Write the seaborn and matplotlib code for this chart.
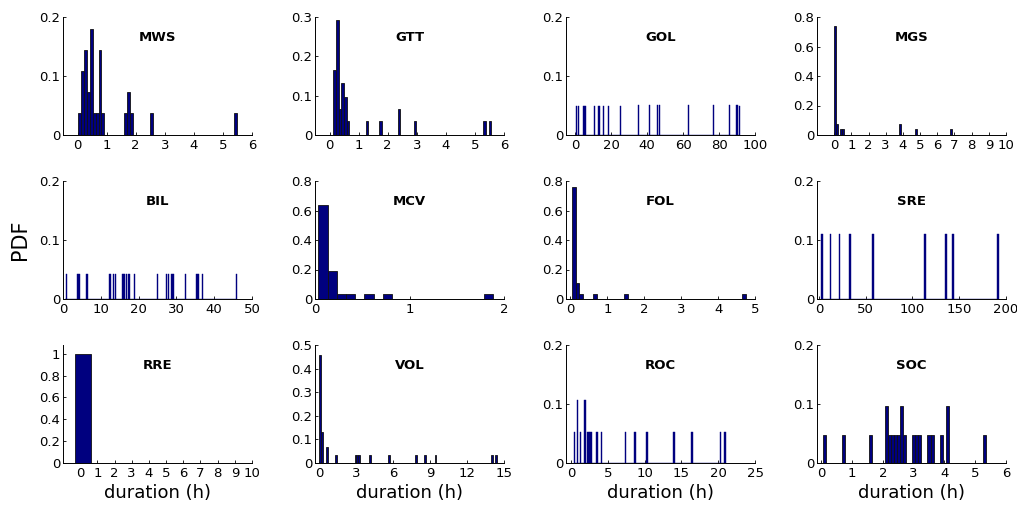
import numpy as np
import matplotlib
matplotlib.use("Agg")
import matplotlib.pyplot as plt
from matplotlib.ticker import FuncFormatter
import seaborn as sns

# durations (h) at each non-empty bin, and the PDF value of that bin
mws_hours = [0.08, 0.18, 0.28, 0.38, 0.47, 0.57, 0.67, 0.77, 0.87, 1.70, 1.79, 1.89, 2.55, 5.43]
mws_pdf = [0.037, 0.108, 0.144, 0.073, 0.179, 0.037, 0.037, 0.144, 0.037, 0.037, 0.073, 0.037, 0.037, 0.037]

gtt_hours = [0.18, 0.27, 0.36, 0.45, 0.55, 0.64, 1.27, 1.76, 2.39, 2.96, 5.32, 5.50]
gtt_pdf = [0.164, 0.293, 0.066, 0.131, 0.097, 0.035, 0.035, 0.035, 0.066, 0.035, 0.035, 0.035]

gol_hours = [0.7, 1.6, 4.8, 5.4, 6.2, 10.5, 13.0, 13.9, 15.3, 18.3, 25.1, 35.3, 41.5, 45.6,
             46.9, 62.8, 77.0, 85.5, 90.0, 90.9]
gol_pdf = [0.05] * 20

mgs_hours = [0.06, 0.18, 0.41, 0.53, 3.8, 4.8, 6.8]
mgs_pdf = [0.738, 0.073, 0.04, 0.04, 0.073, 0.04, 0.04]

bil_hours = [0.8, 4.0, 4.3, 6.3, 12.4, 12.7, 13.3, 13.8, 15.6, 15.9, 16.2, 16.8, 17.5, 19.0,
             24.8, 27.3, 27.8, 28.7, 29.1, 32.3, 35.3, 35.8, 36.8, 46.0]
bil_pdf = [0.0417] * 24

mcv_hours = [0.085, 0.18, 0.28, 0.37, 0.59, 0.79, 1.80]
mcv_pdf = [0.64, 0.19, 0.034, 0.034, 0.034, 0.034, 0.034]

fol_hours = [0.10, 0.19, 0.28, 0.70, 1.47, 4.67]
fol_pdf = [0.76, 0.11, 0.036, 0.036, 0.036, 0.036]

sre_hours = [2.9, 12.9, 21.2, 32.7, 57.8, 113.1, 136.4, 144.0, 191.4]
sre_pdf = [0.111] * 9

rre_hours = [0.15]
rre_pdf = [1.0]

vol_hours = [0.08, 0.22, 0.66, 1.37, 2.92, 3.07, 3.22, 4.1, 5.73, 7.9, 8.55, 9.45, 14.1, 14.3]
vol_pdf = [0.457, 0.13, 0.068, 0.034, 0.034, 0.034, 0.034, 0.034, 0.034, 0.034, 0.034, 0.034, 0.034, 0.034]

roc_hours = [0.45, 0.87, 1.23, 1.91, 2.33, 2.51, 2.74, 3.56, 4.2, 7.35, 8.72, 10.28, 13.99,
             16.35, 20.43, 20.95]
roc_pdf = [0.053, 0.107, 0.053, 0.107, 0.053, 0.053, 0.053, 0.053, 0.053, 0.053, 0.053, 0.053,
           0.053, 0.053, 0.053, 0.053]

soc_hours = [0.115, 0.712, 1.607, 2.105, 2.205, 2.304, 2.404, 2.503, 2.603, 2.702, 3.001, 3.100,
             3.200, 3.498, 3.598, 3.896, 4.095, 5.289]
soc_pdf = [0.048, 0.048, 0.048, 0.097, 0.048, 0.048, 0.048, 0.048, 0.097, 0.048, 0.048, 0.048,
           0.048, 0.048, 0.048, 0.048, 0.097, 0.048]

# name, hours, pdf, bin start, bin width, xlim, xticks, ylim, yticks, thin bars
panels = [
    ("MWS", mws_hours, mws_pdf, 0.03, 0.099, (-0.5, 6), np.arange(0, 7, 1), (0, 0.2), [0, 0.1, 0.2], False),
    ("GTT", gtt_hours, gtt_pdf, 0.134, 0.092, (-0.5, 6), np.arange(0, 7, 1), (0, 0.3), [0, 0.1, 0.2, 0.3], False),
    ("GOL", gol_hours, gol_pdf, 0.3, 0.6, (-5, 100), np.arange(0, 101, 20), (0, 0.2), [0, 0.1, 0.2], True),
    ("MGS", mgs_hours, mgs_pdf, 0.0, 0.118, (-1, 10), np.arange(0, 11, 1), (0, 0.8), [0, 0.2, 0.4, 0.6, 0.8], False),
    ("BIL", bil_hours, bil_pdf, 0.5, 0.3, (0, 50), np.arange(0, 51, 10), (0, 0.2), [0, 0.1, 0.2], True),
    ("MCV", mcv_hours, mcv_pdf, 0.035, 0.0975, (0, 2), [0, 1, 2], (0, 0.8), [0, 0.2, 0.4, 0.6, 0.8], False),
    ("FOL", fol_hours, fol_pdf, 0.05, 0.094, (-0.12, 5), np.arange(0, 6, 1), (0, 0.8), [0, 0.2, 0.4, 0.6, 0.8], False),
    ("SRE", sre_hours, sre_pdf, 2.0, 1.9, (-2, 200), np.arange(0, 201, 50), (0, 0.2), [0, 0.1, 0.2], True),
    ("RRE", rre_hours, rre_pdf, -0.31, 0.93, (-1, 10), np.arange(0, 11, 1), (0, 1.08), [0, 0.2, 0.4, 0.6, 0.8, 1], False),
    ("VOL", vol_hours, vol_pdf, 0.01, 0.144, (-0.33, 15), np.arange(0, 16, 3), (0, 0.5), [0, 0.1, 0.2, 0.3, 0.4, 0.5], False),
    ("ROC", roc_hours, roc_pdf, 0.35, 0.205, (-0.7, 25), np.arange(0, 26, 5), (0, 0.2), [0, 0.1, 0.2], True),
    ("SOC", soc_hours, soc_pdf, 0.065, 0.0995, (-0.14, 6), np.arange(0, 7, 1), (0, 0.2), [0, 0.1, 0.2], False),
]

sns.set_style("ticks")
plt.rcParams["font.family"] = ["DejaVu Sans"]
plt.rcParams["text.color"] = "black"
plt.rcParams["axes.labelcolor"] = "black"

W, H = 1017, 507
fig = plt.figure(figsize=(W / 100, H / 100), dpi=100)

col_left = [63, 315, 566, 817]
row_top = [17, 181, 345]
ax_w, ax_h = 189, 118

fmt = FuncFormatter(lambda v, p: "%g" % round(v, 6))

for i, (name, hours, pdf, start, width, xlim, xt, ylim, yt, thin) in enumerate(panels):
    r, c = divmod(i, 4)
    ax = fig.add_axes([col_left[c] / W, 1 - (row_top[r] + ax_h) / H, ax_w / W, ax_h / H])

    n = int(np.floor((max(hours) - start) / width)) + 1
    edges = (start + width * np.arange(n + 1)).tolist()
    if thin:
        ec, lw = "#00007F", 0.3
    else:
        ec, lw = "#111111", 0.6
    sns.histplot(x=hours, weights=pdf, bins=edges, color="#00007F", edgecolor=ec,
                 linewidth=lw, alpha=1, ax=ax)

    ax.set_xlim(xlim)
    ax.set_ylim(ylim)
    ax.set_xticks(xt)
    ax.set_yticks(yt)
    ax.xaxis.set_major_formatter(fmt)
    ax.yaxis.set_major_formatter(fmt)
    ax.set_xlabel("")
    ax.set_ylabel("")
    sns.despine(ax=ax)
    for s in ["left", "bottom"]:
        ax.spines[s].set_linewidth(0.7)
        ax.spines[s].set_color("black")
    ax.tick_params(direction="in", length=2.5, width=0.6, labelsize=9.5,
                   colors="black", pad=3)
    ax.tick_params(axis="y", pad=2)
    ax.text(0.5, 0.83, name, transform=ax.transAxes, ha="center", va="center",
            fontsize=9.5, fontweight="bold", color="black")
    if r == 2:
        ax.set_xlabel("duration (h)", fontsize=13, labelpad=2.5)

fig.text(20 / W, 1 - 240 / H, "PDF", rotation=90, ha="center", va="center", fontsize=15)

fig.savefig("out.png", dpi=100)
